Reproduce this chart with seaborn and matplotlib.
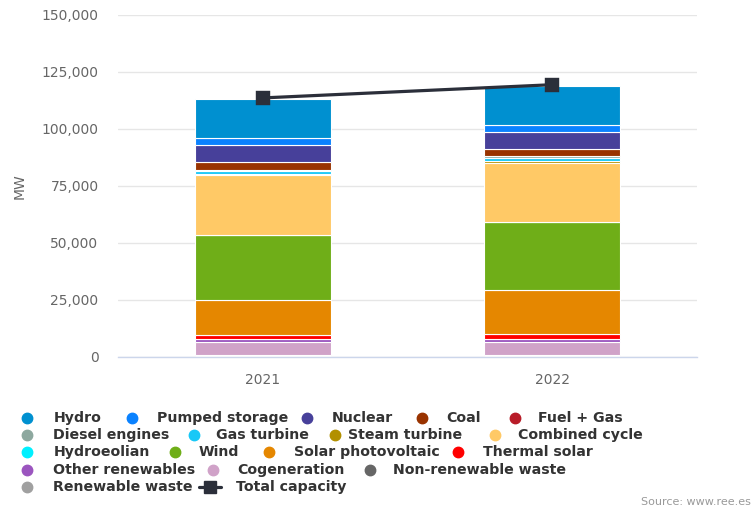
import matplotlib
matplotlib.use("Agg")
import numpy as np
import pandas as pd
import matplotlib.pyplot as plt
from matplotlib.lines import Line2D
from matplotlib.ticker import FuncFormatter, MultipleLocator
import seaborn as sns

# Installed capacity by technology (MW)
years = ["2021", "2022"]

hydro = [17300, 17200]
pumped_storage = [3000, 3100]
nuclear = [7300, 7300]
coal = [3400, 3000]
fuel_gas = [250, 300]
diesel_engines = [250, 800]
gas_turbine = [1600, 1300]
steam_turbine = [250, 700]
combined_cycle = [26400, 26100]
hydroeolian = [11, 11]
wind = [28600, 29600]
solar_pv = [15200, 19600]
thermal_solar = [2000, 2100]
other_renewables = [1000, 1100]
cogeneration = [5900, 5900]
non_renewable_waste = [500, 500]
renewable_waste = [200, 250]
total_capacity = [113600, 119400]

series_names = [
    "Hydro", "Pumped storage", "Nuclear", "Coal", "Fuel + Gas",
    "Diesel engines", "Gas turbine", "Steam turbine", "Combined cycle",
    "Hydroeolian", "Wind", "Solar photovoltaic", "Thermal solar",
    "Other renewables", "Cogeneration", "Non-renewable waste", "Renewable waste",
]
series_values = [
    hydro, pumped_storage, nuclear, coal, fuel_gas,
    diesel_engines, gas_turbine, steam_turbine, combined_cycle,
    hydroeolian, wind, solar_pv, thermal_solar,
    other_renewables, cogeneration, non_renewable_waste, renewable_waste,
]
series_colors = [
    "#0090d0", "#0a82ff", "#47409a", "#993300", "#b81c28",
    "#8da89f", "#18c8f7", "#b29000", "#ffc966",
    "#00f0ff", "#6fae18", "#e58700", "#ff0000",
    "#9b55bf", "#d0a2c8", "#666666", "#a0a0a0",
]
line_color = "#2b2f3a"
text_color = "#666666"
legend_text_color = "#333333"

W, H = 754, 508
sns.set_style("white")
plt.rcParams["font.family"] = ["DejaVu Sans"]

fig = plt.figure(figsize=(W / 100, H / 100), dpi=100)
ax = fig.add_axes([118 / W, 1 - 356.7 / H, (697 - 118) / W, (356.7 - 15) / H])

# Stacked columns: last series sits at the bottom
bottom = np.zeros(len(years))
for name, vals, col in reversed(list(zip(series_names, series_values, series_colors))):
    df = pd.DataFrame({"year": years, "MW": vals})
    sns.barplot(data=df, x="year", y="MW", color=col, width=0.47,
                bottom=bottom.copy(), edgecolor="white", linewidth=0.8,
                errorbar=None, ax=ax, saturation=1)
    bottom += np.array(vals, dtype=float)

# Total capacity line
df_tot = pd.DataFrame({"year": years, "MW": total_capacity})
sns.pointplot(data=df_tot, x="year", y="MW", color=line_color, markers="s",
              linestyles="-", errorbar=None, ax=ax, markersize=8.5, linewidth=2.3)
for ln in ax.lines:
    ln.set_zorder(5)

ax.set_xlim(-0.5, 1.5)
ax.set_ylim(0, 150000)
ax.yaxis.set_major_locator(MultipleLocator(25000))
ax.yaxis.set_major_formatter(FuncFormatter(lambda v, p: f"{int(v):,}"))
ax.yaxis.grid(True, color="#e6e6e6", linewidth=1)
ax.set_axisbelow(True)
for s in ["top", "right", "left"]:
    ax.spines[s].set_visible(False)
ax.spines["bottom"].set_color("#ccd6eb")
ax.spines["bottom"].set_linewidth(1)
ax.tick_params(axis="y", length=0, pad=14, labelsize=10, labelcolor=text_color)
ax.tick_params(axis="x", length=8, width=1, color="#ccd6eb", pad=4,
               labelsize=10, labelcolor=text_color)
ax.set_xlabel("")
ax.set_ylabel("")
fig.text(20 / W, 1 - 186 / H, "MW", rotation=90, ha="center", va="center",
         color=text_color, fontsize=10)

# Legend, laid out in flowing rows
def px(x, y):
    return x / W, 1 - y / H

legend_rows = [
    (418.3, [(26.7, 53.3, "Hydro"), (131.7, 156.7, "Pumped storage"),
             (306.7, 331.7, "Nuclear"), (421.7, 446.0, "Coal"),
             (515.0, 538.3, "Fuel + Gas")]),
    (435.0, [(26.7, 53.3, "Diesel engines"), (194.3, 216.0, "Gas turbine"),
             (335.0, 348.5, "Steam turbine"), (495.0, 518.3, "Combined cycle")]),
    (452.3, [(26.7, 53.3, "Hydroeolian"), (175.0, 199.0, "Wind"),
             (269.3, 294.0, "Solar photovoltaic"), (458.3, 483.3, "Thermal solar")]),
    (470.0, [(26.7, 53.3, "Other renewables"), (213.3, 237.3, "Cogeneration"),
             (369.5, 393.3, "Non-renewable waste")]),
    (487.3, [(26.7, 53.3, "Renewable waste")]),
]
color_of = dict(zip(series_names, series_colors))
for ry, items in legend_rows:
    for mx, tx, label in items:
        x0, y0 = px(mx, ry)
        fig.add_artist(Line2D([x0], [y0], marker="o", markersize=7.5,
                              color=color_of[label], linestyle="none",
                              transform=fig.transFigure))
        tx0, ty0 = px(tx, ry)
        fig.text(tx0, ty0, label, ha="left", va="center", fontsize=10.2,
                 fontweight="bold", color=legend_text_color)

# Total capacity legend symbol
xa, ya = px(199, 487.3)
xb, _ = px(221, 487.3)
xm, _ = px(210, 487.3)
fig.add_artist(Line2D([xa, xb], [ya, ya], color=line_color, linewidth=2.3,
                      transform=fig.transFigure))
fig.add_artist(Line2D([xm], [ya], marker="s", markersize=8.5, color=line_color,
                      linestyle="none", transform=fig.transFigure))
tx0, ty0 = px(236, 487.3)
fig.text(tx0, ty0, "Total capacity", ha="left", va="center", fontsize=10.2,
         fontweight="bold", color=legend_text_color)

sx, sy = px(751, 502)
fig.text(sx, sy, "Source: www.ree.es", ha="right", va="center", fontsize=8,
         color="#999999")

fig.savefig("out.png", dpi=100)
